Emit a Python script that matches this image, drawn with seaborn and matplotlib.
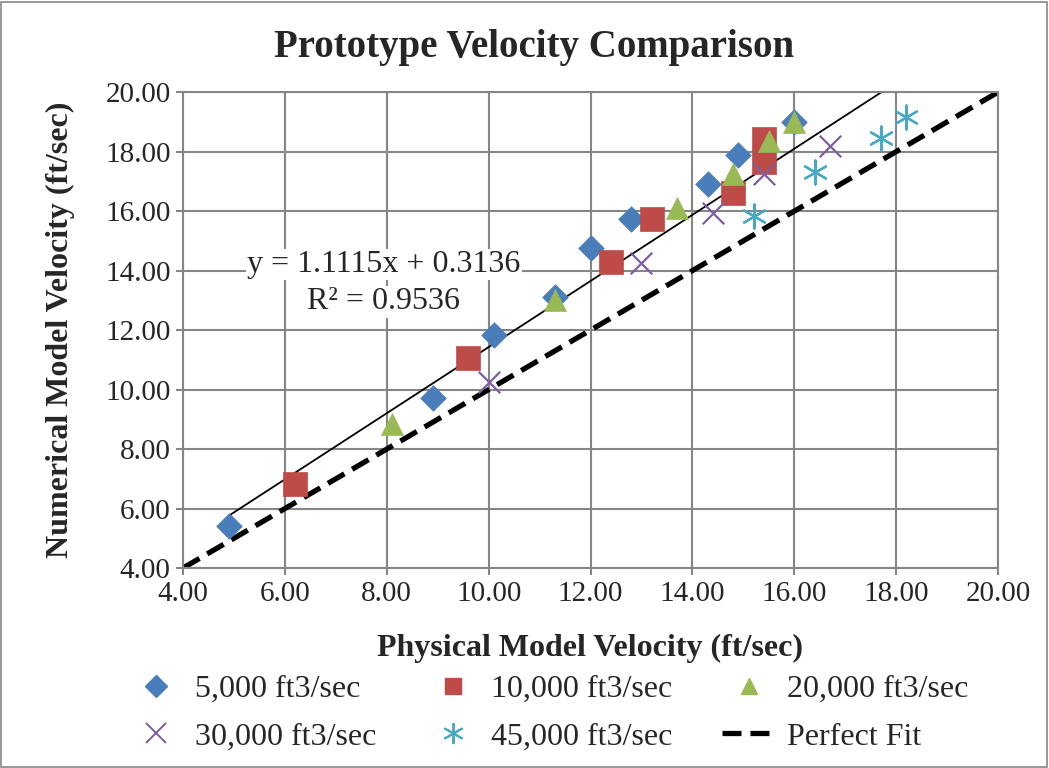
import matplotlib
matplotlib.use("Agg")
import matplotlib.pyplot as plt
import seaborn as sns
import numpy as np
import pandas as pd
from matplotlib.lines import Line2D

# ---- data ----
x_5k = [4.9, 8.9, 10.1, 11.3, 12.0, 12.8, 14.3, 14.9, 16.0]
y_5k = [5.42, 9.7, 11.85, 13.1, 14.75, 15.75, 16.9, 17.9, 18.98]
x_10k = [6.2, 9.6, 12.4, 13.2, 14.8, 15.4, 15.4]
y_10k = [6.82, 11.05, 14.3, 15.74, 16.62, 17.66, 18.43]
x_20k = [8.1, 11.3, 13.7, 14.8, 15.5, 16.0]
y_20k = [8.85, 13.0, 16.12, 17.25, 18.35, 18.98]
x_30k = [10.0, 13.0, 14.4, 15.4, 16.7]
y_30k = [10.25, 14.25, 15.93, 17.24, 18.2]
x_45k = [15.2, 16.4, 17.7, 18.2]
y_45k = [15.83, 17.33, 18.45, 19.18]
perfect_x = [4.0, 20.0]
perfect_y = [4.0, 20.0]
trend_slope = 1.1115
trend_intercept = 0.3136
trend_r2 = 0.9536

labels = ["5,000 ft3/sec", "10,000 ft3/sec", "20,000 ft3/sec",
          "30,000 ft3/sec", "45,000 ft3/sec"]
colors = ["#4A7EBB", "#BE4B48", "#98B954", "#7D5FA0", "#46AAC5"]

sns.set_theme(style="white")
plt.rcParams["font.family"] = ["Liberation Serif", "DejaVu Serif"]

fig = plt.figure(figsize=(10.49, 7.68), dpi=100)
ax = fig.add_axes([0.1745, 0.2604, 0.9514 - 0.1745, 0.880 - 0.2604])

grid_c = "#868686"
ax.set_xlim(4, 20)
ax.set_ylim(4, 20)
ticks = np.arange(4, 20.01, 2)
ax.set_xticks(ticks)
ax.set_yticks(ticks)
ax.set_xticklabels([f"{t:.2f}" for t in ticks], fontsize=21)
ax.set_yticklabels([f"{t:.2f}" for t in ticks], fontsize=21)
ax.grid(True, color=grid_c, linewidth=1.5)
ax.set_axisbelow(True)
for s in ax.spines.values():
    s.set_color(grid_c)
    s.set_linewidth(1.5)
ax.tick_params(axis="both", length=5, color=grid_c, width=1.5, direction="out",
               left=True, bottom=True, pad=4)

dash = (0, (3.6, 1.7))
# perfect fit
sns.lineplot(x=perfect_x, y=perfect_y, ax=ax, color="black", linewidth=3.8,
             linestyle=dash, zorder=2, legend=False)

# trendline
all_x = x_5k + x_10k + x_20k + x_30k + x_45k
tx = np.array([min(all_x), max(all_x)])
ty = trend_slope * tx + trend_intercept
ax.plot(tx, ty, color="black", linewidth=1.3, zorder=2)

series = [(x_5k, y_5k, "D", 170), (x_10k, y_10k, "s", 280), (x_20k, y_20k, "^", 250),
          (x_30k, y_30k, "x", 240), (x_45k, y_45k, (6, 2, 0), 300)]
for (xs, ys, m, sz), lab, c in zip(series, labels, colors):
    if m == "x" or isinstance(m, tuple):
        sns.scatterplot(x=xs, y=ys, ax=ax, marker=m, color=c, s=sz, linewidth=1.6,
                        zorder=3, legend=False)
    else:
        sns.scatterplot(x=xs, y=ys, ax=ax, marker=m, color=c, s=sz, edgecolor=c,
                        linewidth=0.5, zorder=3, legend=False)

ax.text(7.94, 14.2, f"y = {trend_slope}x + {trend_intercept}", ha="center", va="center",
        fontsize=23, bbox=dict(facecolor="white", edgecolor="none", pad=1), zorder=4)
ax.text(7.94, 12.95, f"R² = {trend_r2}", ha="center", va="center", fontsize=23,
        bbox=dict(facecolor="white", edgecolor="none", pad=1), zorder=4)

fig.text(534 / 1049, 1 - 48 / 768, "Prototype Velocity Comparison", ha="center",
         va="center", fontsize=28, fontweight="bold")
fig.text(590 / 1049, 1 - 648 / 768, "Physical Model Velocity (ft/sec)", ha="center",
         va="center", fontsize=23, fontweight="bold")
fig.text(60 / 1049, 1 - 330 / 768, "Numerical Model Velocity (ft/sec)", ha="center",
         va="center", fontsize=23, fontweight="bold", rotation=90)

# legend
h = []
for (xs, ys, m, sz), lab, c in zip(series, labels, colors):
    if m == "x" or isinstance(m, tuple):
        h.append(Line2D([], [], linestyle="none", marker=m, color=c, markersize=15,
                        markeredgewidth=1.4, label=lab))
    else:
        h.append(Line2D([], [], linestyle="none", marker=m, color=c,
                        markersize=12 if m != "D" else 11, markeredgecolor=c, label=lab))
pf = Line2D([], [], color="black", linewidth=3.8, linestyle=dash, label="Perfect Fit")
order = [h[0], h[3], h[1], h[4], h[2], pf]
fig.legend(handles=order, loc="center", bbox_to_anchor=(549 / 1049, 1 - 713 / 768), ncol=3,
           frameon=False, fontsize=23, handlelength=1.7, columnspacing=1.55,
           handletextpad=0.35, labelspacing=0.58, borderpad=0)

fig.patches.append(plt.Rectangle((0.001, 0.001), 0.997, 0.997, transform=fig.transFigure,
                                 fill=False, edgecolor="#868686", linewidth=1.2))

fig.savefig("out.png", dpi=100, facecolor="white")
